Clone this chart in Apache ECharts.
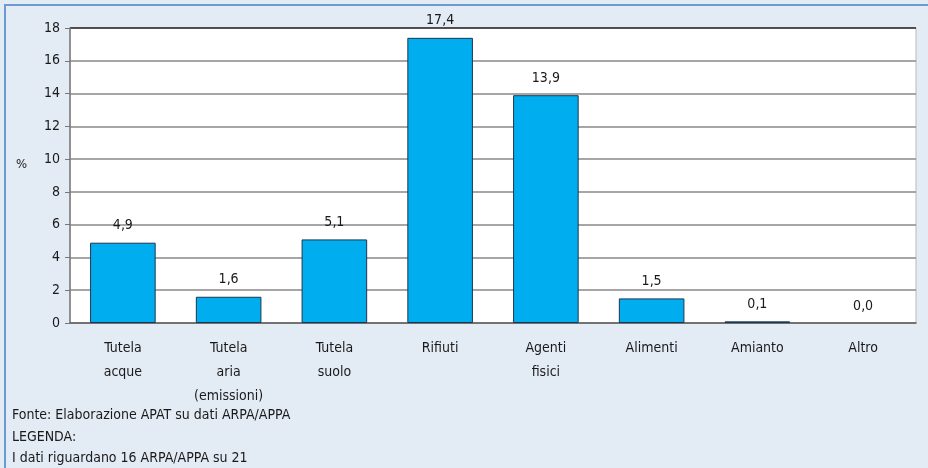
<!DOCTYPE html>
<html><head><meta charset="utf-8">
<script src="https://cdn.jsdelivr.net/npm/echarts@6/dist/echarts.min.js"></script>
<style>html,body{margin:0;padding:0;background:#e3ebf5;}#c{width:928px;height:468px;}</style>
</head><body><div id="c"></div>
<script>
const categories = ["Tutela\nacque", "Tutela\naria\n(emissioni)", "Tutela\nsuolo", "Rifiuti", "Agenti\nfisici", "Alimenti", "Amianto", "Altro"];
const values = [4.9, 1.6, 5.1, 17.4, 13.9, 1.5, 0.1, 0.0];
const yTicks = [0, 2, 4, 6, 8, 10, 12, 14, 16, 18];
const footerLines = ["Fonte: Elaborazione APAT su dati ARPA/APPA", "LEGENDA:", "I dati riguardano 16 ARPA/APPA su 21"];
const yUnit = "%";

const FONT = "'Liberation Sans Narrow', 'DejaVu Sans Condensed', sans-serif";
const chart = echarts.init(document.getElementById('c'), null, {renderer: 'canvas'});
chart.setOption({
  backgroundColor: '#e3ebf5',
  animation: false,
  textStyle: {fontFamily: FONT},
  grid: {left: 70, right: 12, top: 28, bottom: 145, show: true, backgroundColor: '#ffffff', borderColor: '#bbbbbb', borderWidth: 1},
  xAxis: {
    type: 'category', data: categories,
    axisLine: {show: true, lineStyle: {color: '#666', width: 1.5}},
    axisTick: {show: false},
    axisLabel: {fontFamily: FONT, fontSize: 14, color: '#1a1a1a', lineHeight: 24, margin: 13}
  },
  yAxis: {
    type: 'value', min: yTicks[0], max: yTicks[yTicks.length - 1], interval: 2,
    axisLine: {show: true, lineStyle: {color: '#777', width: 1.5}},
    axisTick: {show: true, length: 5, lineStyle: {color: '#777'}},
    axisLabel: {fontFamily: FONT, fontSize: 14, color: '#1a1a1a', margin: 10},
    splitLine: {show: true, lineStyle: {color: ['#888', '#888', '#888', '#888', '#888', '#888', '#888', '#888', '#888', '#222'], width: 1.5}}
  },
  series: [{
    type: 'bar',
    data: values.map(v => ({value: v, itemStyle: {borderWidth: v === 0 ? 0 : 1}})),
    barWidth: '62%',
    itemStyle: {color: '#00aeef', borderColor: '#1d3550', borderWidth: 1},
    label: {show: true, position: 'top', distance: 10, fontFamily: FONT, fontSize: 14, color: '#1a1a1a',
      formatter: p => p.value.toFixed(1).replace('.', ',')}
  }],
  graphic: [
    {type: 'rect', shape: {x: 4, y: 4, width: 924, height: 2}, style: {fill: '#6b9bd0'}},
    {type: 'rect', shape: {x: 4, y: 4, width: 2, height: 464}, style: {fill: '#6b9bd0'}},
    {type: 'text', left: 16, top: 158, style: {text: yUnit, font: '13px ' + FONT, fill: '#1a1a1a'}},
    {type: 'text', left: 12, top: 405, style: {text: footerLines.join('\n'), font: '14px ' + FONT, lineHeight: 21.5, fill: '#1a1a1a'}}
  ]
});
</script></body></html>
